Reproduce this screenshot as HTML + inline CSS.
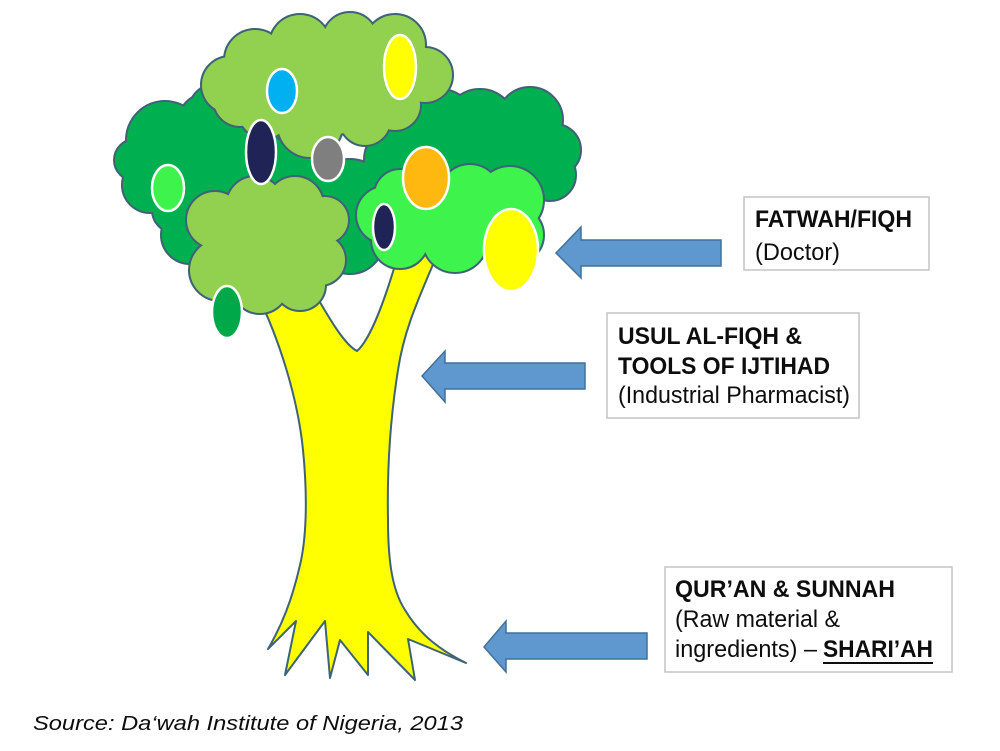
<!DOCTYPE html>
<html>
<head>
<meta charset="utf-8">
<style>
  html,body{margin:0;padding:0;background:#fff;}
  svg{display:block;}
  text{font-family:"Liberation Sans", Arial, sans-serif; fill:#0d0d0d;}
</style>
</head>
<body>
<svg width="1000" height="751" viewBox="0 0 1000 751" xmlns="http://www.w3.org/2000/svg">
  <rect width="1000" height="751" fill="#fff"/>

  <!-- Trunk -->
  <path d="M 256,292
           C 280,340 298,400 303,450
           C 308,500 306,540 300,565
           C 292,600 282,625 268,649
           L 296,621 L 285,675 L 325,621 L 330,678 L 340,640 L 368,675 L 368,632 L 415,680 L 408,639 L 466,663
           C 440,650 420,635 405,610
           C 392,590 388,560 388,520
           C 387,470 390,420 398,370
           C 404,330 418,300 437,255
           L 398,255
           C 385,300 370,340 357,351
           C 345,345 330,320 313,290 Z"
        fill="#FFFF00" stroke="#3E6276" stroke-width="2" stroke-linejoin="round"/>

  <!-- Dark green mass -->
  <g stroke="#3E6276" stroke-width="4" fill="#00B050">
      <circle cx="165" cy="140" r="38"/><circle cx="135" cy="160" r="20"/><circle cx="150" cy="185" r="27"/>
      <circle cx="175" cy="210" r="22"/><circle cx="190" cy="235" r="28"/><circle cx="205" cy="120" r="25"/>
      <circle cx="215" cy="110" r="25"/><circle cx="240" cy="140" r="32"/>
      <circle cx="215" cy="185" r="45"/><circle cx="260" cy="175" r="40"/><circle cx="300" cy="175" r="35"/>
      <circle cx="350" cy="200" r="40"/><circle cx="350" cy="240" r="33"/><circle cx="440" cy="125" r="35"/>
      <circle cx="400" cy="160" r="35"/><circle cx="480" cy="125" r="35"/><circle cx="530" cy="120" r="32"/>
      <circle cx="555" cy="150" r="25"/><circle cx="550" cy="175" r="25"/><circle cx="520" cy="175" r="30"/>
      <circle cx="470" cy="165" r="35"/><circle cx="500" cy="150" r="40"/>
  </g>
  <g fill="#00B050">
      <circle cx="165" cy="140" r="38"/><circle cx="135" cy="160" r="20"/><circle cx="150" cy="185" r="27"/>
      <circle cx="175" cy="210" r="22"/><circle cx="190" cy="235" r="28"/><circle cx="205" cy="120" r="25"/>
      <circle cx="215" cy="110" r="25"/><circle cx="240" cy="140" r="32"/>
      <circle cx="215" cy="185" r="45"/><circle cx="260" cy="175" r="40"/><circle cx="300" cy="175" r="35"/>
      <circle cx="350" cy="200" r="40"/><circle cx="350" cy="240" r="33"/><circle cx="440" cy="125" r="35"/>
      <circle cx="400" cy="160" r="35"/><circle cx="480" cy="125" r="35"/><circle cx="530" cy="120" r="32"/>
      <circle cx="555" cy="150" r="25"/><circle cx="550" cy="175" r="25"/><circle cx="520" cy="175" r="30"/>
      <circle cx="470" cy="165" r="35"/><circle cx="500" cy="150" r="40"/>
  </g>

  <!-- Top light green cloud A -->
  <g fill="#92D050" stroke="#3E6276" stroke-width="4">
    <circle cx="230" cy="85" r="28"/><circle cx="255" cy="60" r="30"/><circle cx="300" cy="45" r="30"/>
    <circle cx="350" cy="40" r="27"/><circle cx="395" cy="45" r="30"/><circle cx="425" cy="75" r="27"/>
    <circle cx="395" cy="105" r="25"/><circle cx="365" cy="120" r="25"/><circle cx="310" cy="125" r="32"/>
    <circle cx="240" cy="100" r="26"/><circle cx="265" cy="112" r="26"/><circle cx="330" cy="85" r="50"/>
    <circle cx="385" cy="78" r="32"/>
  </g>
  <g fill="#92D050">
    <circle cx="230" cy="85" r="28"/><circle cx="255" cy="60" r="30"/><circle cx="300" cy="45" r="30"/>
    <circle cx="350" cy="40" r="27"/><circle cx="395" cy="45" r="30"/><circle cx="425" cy="75" r="27"/>
    <circle cx="395" cy="105" r="25"/><circle cx="365" cy="120" r="25"/><circle cx="310" cy="125" r="32"/>
    <circle cx="240" cy="100" r="26"/><circle cx="265" cy="112" r="26"/><circle cx="330" cy="85" r="50"/>
    <circle cx="385" cy="78" r="32"/>
  </g>

  <!-- Lower-left light green cloud D -->
  <g fill="#92D050" stroke="#3E6276" stroke-width="4">
    <circle cx="215" cy="220" r="28"/><circle cx="255" cy="205" r="28"/><circle cx="295" cy="205" r="28"/>
    <circle cx="325" cy="220" r="23"/><circle cx="320" cy="260" r="25"/><circle cx="300" cy="285" r="25"/>
    <circle cx="260" cy="285" r="28"/><circle cx="220" cy="270" r="30"/><circle cx="270" cy="245" r="45"/>
  </g>
  <g fill="#92D050">
    <circle cx="215" cy="220" r="28"/><circle cx="255" cy="205" r="28"/><circle cx="295" cy="205" r="28"/>
    <circle cx="325" cy="220" r="23"/><circle cx="320" cy="260" r="25"/><circle cx="300" cy="285" r="25"/>
    <circle cx="260" cy="285" r="28"/><circle cx="220" cy="270" r="30"/><circle cx="270" cy="245" r="45"/>
  </g>

  <!-- Bright green cloud E -->
  <g fill="#3DF34C" stroke="#3E6276" stroke-width="4">
    <circle cx="385" cy="215" r="28"/><circle cx="400" cy="195" r="25"/><circle cx="470" cy="195" r="30"/>
    <circle cx="510" cy="200" r="33"/><circle cx="515" cy="235" r="28"/><circle cx="455" cy="240" r="32"/>
    <circle cx="400" cy="240" r="28"/><circle cx="450" cy="220" r="40"/>
  </g>
  <g fill="#3DF34C">
    <circle cx="385" cy="215" r="28"/><circle cx="400" cy="195" r="25"/><circle cx="470" cy="195" r="30"/>
    <circle cx="510" cy="200" r="33"/><circle cx="515" cy="235" r="28"/><circle cx="455" cy="240" r="32"/>
    <circle cx="400" cy="240" r="28"/><circle cx="450" cy="220" r="40"/>
  </g>

  <!-- Fruits -->
  <g stroke="#ffffff" stroke-width="2.5">
    <ellipse cx="400" cy="67" rx="16" ry="32" fill="#FFFF00"/>
    <ellipse cx="282" cy="91" rx="15" ry="22" fill="#00B0F0"/>
    <ellipse cx="261" cy="152" rx="15" ry="32" fill="#1F2356"/>
    <ellipse cx="328" cy="159" rx="16" ry="22" fill="#7F7F7F"/>
    <ellipse cx="168" cy="188" rx="16" ry="23" fill="#3DF34C"/>
    <ellipse cx="426" cy="178" rx="23" ry="31" fill="#FFB810"/>
    <ellipse cx="384" cy="227" rx="11" ry="23" fill="#1F2356"/>
    <ellipse cx="511" cy="250" rx="27" ry="41" fill="#FFFF00"/>
    <ellipse cx="227" cy="312" rx="15" ry="26" fill="#00A84A"/>
  </g>

  <!-- Arrows -->
  <g fill="#5F97CF" stroke="#41719C" stroke-width="1.5" stroke-linejoin="miter">
    <path d="M 556,253 L 581,227 L 581,240 L 721,240 L 721,266 L 581,266 L 581,278 Z"/>
    <path d="M 422,376 L 445,351 L 445,363 L 585,363 L 585,389 L 445,389 L 445,402 Z"/>
    <path d="M 484,647 L 506,621 L 506,633 L 647,633 L 647,659 L 506,659 L 506,672 Z"/>
  </g>

  <!-- Boxes -->
  <g fill="#fff" stroke="#C4C4C4" stroke-width="1.5">
    <rect x="744" y="197" width="185" height="73"/>
    <rect x="607" y="313" width="252" height="105"/>
    <rect x="665" y="567" width="287" height="105"/>
  </g>

  <!-- Box texts -->
  <text x="755" y="227" font-size="24" font-weight="bold" textLength="157" lengthAdjust="spacingAndGlyphs">FATWAH/FIQH</text>
  <text x="755" y="260" font-size="24" textLength="85" lengthAdjust="spacingAndGlyphs">(Doctor)</text>

  <text x="618" y="344" font-size="24" font-weight="bold" textLength="184" lengthAdjust="spacingAndGlyphs">USUL AL-FIQH &amp;</text>
  <text x="618" y="374" font-size="24" font-weight="bold" textLength="212" lengthAdjust="spacingAndGlyphs">TOOLS OF IJTIHAD</text>
  <text x="618" y="403" font-size="24" textLength="232" lengthAdjust="spacingAndGlyphs">(Industrial Pharmacist)</text>

  <text x="675" y="597" font-size="24" font-weight="bold" textLength="220" lengthAdjust="spacingAndGlyphs">QUR’AN &amp; SUNNAH</text>
  <text x="675" y="627" font-size="24" textLength="165" lengthAdjust="spacingAndGlyphs">(Raw material &amp;</text>
  <text x="675" y="657" font-size="24" textLength="142" lengthAdjust="spacingAndGlyphs">ingredients) –</text>
  <text x="823" y="657" font-size="24" font-weight="bold" textLength="110" lengthAdjust="spacingAndGlyphs">SHARI’AH</text>
  <rect x="823" y="662" width="110" height="2" fill="#0d0d0d"/>

  <!-- Source -->
  <text x="33" y="730" font-size="20" font-style="italic" textLength="430" lengthAdjust="spacingAndGlyphs">Source: Da‘wah Institute of Nigeria, 2013</text>
</svg>
</body>
</html>
